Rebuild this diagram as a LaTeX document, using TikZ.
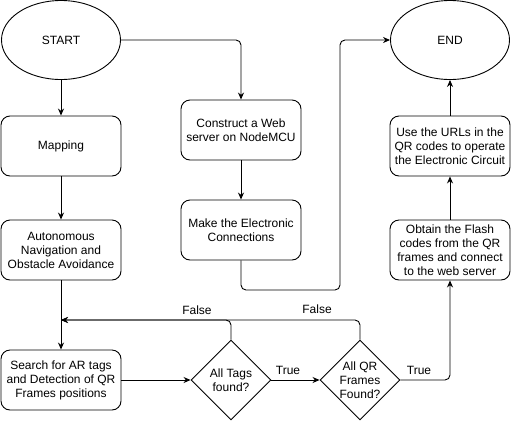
\documentclass[tikz,border=0pt]{standalone}
\usepackage{fontspec}
\setmainfont{Liberation Sans}
\usetikzlibrary{shapes.geometric,arrows.meta}
\begin{document}
\begin{tikzpicture}[x=1pt,y=-1pt,
 every node/.style={font=\fontsize{12}{14}\selectfont},
 term/.style={ellipse,draw,line width=0.9pt,minimum width=119pt,minimum height=79pt,inner sep=0pt},
 proc/.style={rectangle,draw,rounded corners=9pt,line width=0.9pt,minimum width=120pt,minimum height=60pt,align=center,inner sep=1pt},
 dec/.style={diamond,draw,line width=0.9pt,minimum width=80pt,minimum height=80pt,inner sep=-1pt,align=center},
 conn/.style={draw,line width=0.9pt,rounded corners=5pt,-{Stealth[length=7pt,width=6pt]}},
 lbl/.style={inner sep=0pt}]
\useasboundingbox (0,0) rectangle (511,421);
\node[term] (start) at (61,40) {START};
\node[term] (end) at (450,40) {END};
\node[proc] (map) at (61,146) {Mapping};
\node[proc] (auto) at (61,250) {Autonomous\\Navigation and\\Obstacle Avoidance};
\node[proc] (search) at (61,380) {Search for AR tags\\and Detection of QR\\Frames positions};
\node[proc] (cons) at (241,130) {Construct a Web\\server on NodeMCU};
\node[proc] (make) at (241,230) {Make the Electronic\\Connections};
\node[proc] (urls) at (450,146) {Use the URLs in the\\QR codes to operate\\the Electronic Circuit};
\node[proc] (obtain) at (450,250) {Obtain the Flash\\codes from the QR\\frames and connect\\to the web server};
\node[dec] (d1) at (231,380) {All Tags\\found?};
\node[dec] (d2) at (360,380) {All QR\\Frames\\Found?};
\coordinate (c1) at (340,290);
\coordinate (j) at (61,320);
\draw[conn] (start.east) -| (cons.north);
\draw[conn] (start.south) -- (map.north);
\draw[conn] (map) -- (auto);
\draw[conn] (auto) -- (search);
\draw[conn] (cons) -- (make);
\draw[conn] (make.south) |- (c1) |- (end.west);
\draw[conn] (search) -- (d1);
\draw[conn] (d1) -- (d2);
\draw[conn] (d2.east) -| (obtain.south);
\draw[conn] (obtain) -- (urls);
\draw[conn] (urls) -- (end);
\draw[conn] (d2.north) |- (j);
\draw[conn] (d1.north) |- (j);
\node[lbl] (t1) at (288,370) {True};
\node[lbl] (t2) at (419,370) {True};
\node[lbl] (f1) at (197,310) {False};
\node[lbl] (f2) at (317,309) {False};
\end{tikzpicture}
\end{document}
